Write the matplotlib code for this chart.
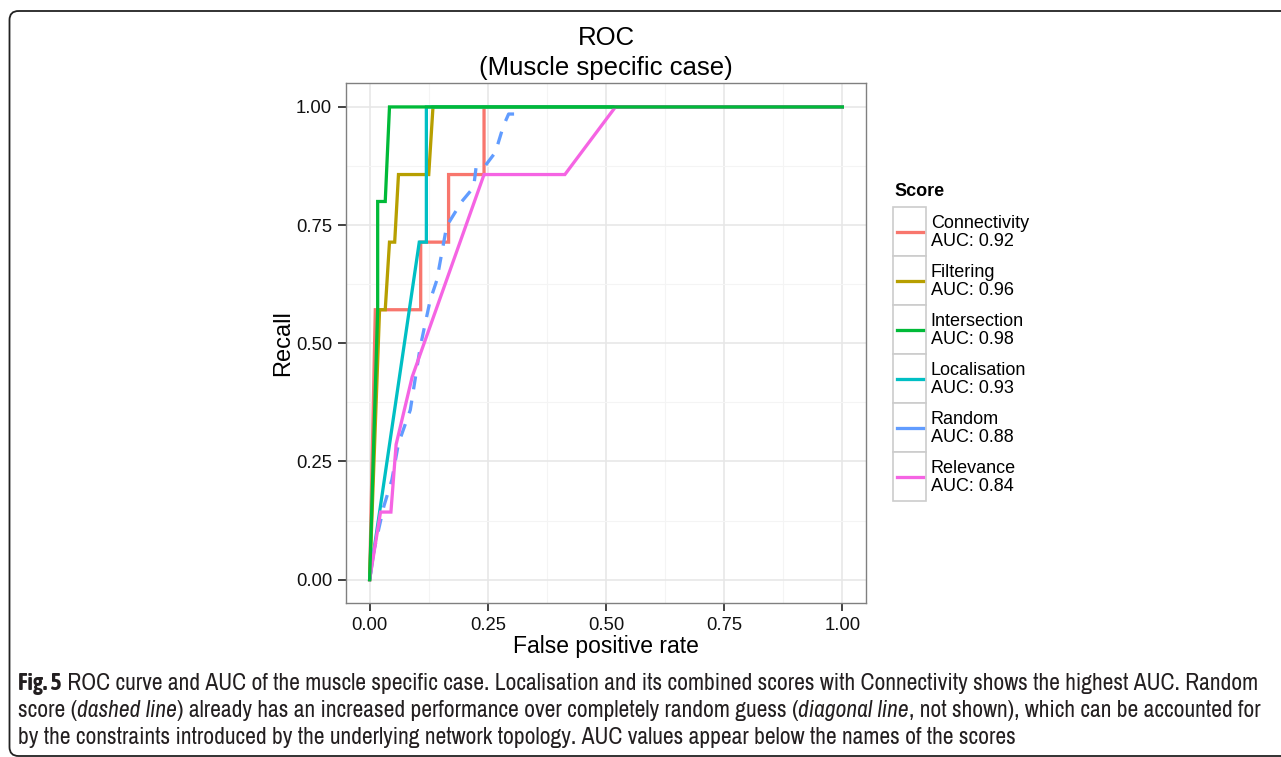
import matplotlib
matplotlib.use("Agg")
import matplotlib.pyplot as plt
from matplotlib import font_manager
from matplotlib.patches import FancyBboxPatch, Rectangle

# ROC curves
conn_x = [0, 0.012, 0.108, 0.108, 0.167, 0.167, 0.242, 0.242, 1.0]
conn_y = [0, 0.571, 0.571, 0.714, 0.714, 0.857, 0.857, 1.0, 1.0]
filt_x = [0, 0.021, 0.033, 0.042, 0.053, 0.061, 0.125, 0.134, 1.0]
filt_y = [0, 0.571, 0.571, 0.714, 0.714, 0.857, 0.857, 1.0, 1.0]
inter_x = [0, 0.017, 0.017, 0.033, 0.042, 1.0]
inter_y = [0, 0.571, 0.80, 0.80, 1.0, 1.0]
local_x = [0, 0.105, 0.12, 0.12, 1.0]
local_y = [0, 0.714, 0.714, 1.0, 1.0]
rand_x = [0, 0.008, 0.03, 0.047, 0.061, 0.086, 0.107, 0.128, 0.142, 0.163,
          0.195, 0.22, 0.225, 0.241, 0.266, 0.283, 0.294, 0.318]
rand_y = [0, 0.057, 0.155, 0.211, 0.288, 0.359, 0.492, 0.591, 0.633, 0.748,
          0.80, 0.83, 0.871, 0.871, 0.904, 0.96, 0.985, 0.985]
relev_x = [0, 0.023, 0.045, 0.056, 0.09, 0.242, 0.413, 0.52, 1.0]
relev_y = [0, 0.143, 0.143, 0.286, 0.429, 0.857, 0.857, 1.0, 1.0]

scores = ["Connectivity", "Filtering", "Intersection", "Localisation", "Random", "Relevance"]
auc = [0.92, 0.96, 0.98, 0.93, 0.88, 0.84]
colors = ["#F8766D", "#B79F00", "#00BA38", "#00BFC4", "#619CFF", "#F564E3"]
curves = [(conn_x, conn_y), (filt_x, filt_y), (inter_x, inter_y),
          (local_x, local_y), (rand_x, rand_y), (relev_x, relev_y)]

ticks = [0.0, 0.25, 0.5, 0.75, 1.0]
tick_labels = ["0.00", "0.25", "0.50", "0.75", "1.00"]

caption_lines = [
    [("Fig. 5", "bold", "normal"),
     (" ROC curve and AUC of the muscle specific case. Localisation and its combined scores "
      "with Connectivity shows the highest AUC. Random", "normal", "normal")],
    [("score (", "normal", "normal"), ("dashed line", "normal", "italic"),
     (") already has an increased performance over completely random guess (", "normal", "normal"),
     ("diagonal line", "normal", "italic"),
     (", not shown), which can be accounted for", "normal", "normal")],
    [("by the constraints introduced by the underlying network topology. AUC values appear "
      "below the names of the scores", "normal", "normal")],
]

plt.rcParams["font.family"] = ["Liberation Sans", "DejaVu Sans"]

# pick a condensed face for the caption, and a bold one if it exists
fonts = font_manager.fontManager.ttflist
narrow = sorted({f.name for f in fonts if "Narrow" in f.name or "Condensed" in f.name})
cap_family = narrow[0] if narrow else "Liberation Sans"
bold_narrow = [f.name for f in fonts
               if f.name in narrow and isinstance(f.weight, int) and f.weight >= 600]
if cap_family in bold_narrow:
    bold_family = cap_family
elif bold_narrow:
    bold_family = bold_narrow[0]
else:
    bold_family = cap_family

W, H = 1281, 757
fig = plt.figure(figsize=(W / 100, H / 100), dpi=100)

# pixel overlay for frame, titles, legend and caption
ov = fig.add_axes([0, 0, 1, 1])
ov.set_xlim(0, W)
ov.set_ylim(H, 0)
ov.axis("off")

ax = fig.add_axes([346 / W, 1 - 603.3 / H, 520 / W, 520 / H])
ax.set_facecolor("white")
for i, (xs, ys) in enumerate(curves):
    ls = (0, (4, 3.5)) if scores[i] == "Random" else "-"
    z = 4 if scores[i] == "Intersection" else 3
    ax.plot(xs, ys, color=colors[i], lw=2.35, ls=ls, zorder=z, solid_joinstyle="miter")

ax.set_xlim(-0.05, 1.05)
ax.set_ylim(-0.05, 1.05)
ax.set_xticks(ticks)
ax.set_xticklabels(tick_labels)
ax.set_yticks(ticks)
ax.set_yticklabels(tick_labels)
ax.set_xticks([0.125, 0.375, 0.625, 0.875], minor=True)
ax.set_yticks([0.125, 0.375, 0.625, 0.875], minor=True)
ax.grid(True, which="major", color="#E6E6E6", lw=1.1, zorder=0)
ax.grid(True, which="minor", color="#F4F4F4", lw=0.8, zorder=0)
ax.set_axisbelow(True)
ax.tick_params(which="major", length=6, width=1.2, color="#222222", pad=4,
               labelsize=13.3, labelcolor="#111111")
ax.tick_params(which="minor", length=0)
for sp in ax.spines.values():
    sp.set_color("#808080")
    sp.set_linewidth(1.0)

ax.set_xlabel("False positive rate", fontsize=16.5)
ax.set_ylabel("Recall", fontsize=17)
ax.xaxis.set_label_coords(0.5, -0.084)
ax.yaxis.set_label_coords(-0.121, 0.5)
ax.xaxis.label.set_va("center")
ax.yaxis.label.set_va("center")

# title
ov.text(606, 38, "ROC", fontsize=18.5, ha="center", va="center")
ov.text(606, 68, "(Muscle specific case)", fontsize=18.5, ha="center", va="center")

# legend
ov.text(894, 192, "Score", fontsize=13, fontweight="bold", ha="left", va="center")
for i, name in enumerate(scores):
    top = 207.3 + i * 49
    ov.add_patch(Rectangle((893.3, top), 32.7, 49, facecolor="white",
                           edgecolor="#CCCCCC", lw=1.2))
    ov.plot([896.7, 922.7], [top + 24.5, top + 24.5], color=colors[i], lw=2.35)
    ov.text(930.7, top + 16, name, fontsize=13, ha="left", va="center")
    ov.text(930.7, top + 34.5, "AUC: {:.2f}".format(auc[i]), fontsize=13,
            ha="left", va="center")

# rounded frame around the figure panel
ov.add_patch(FancyBboxPatch((9.5, 11), 1400, 745, boxstyle="round,pad=0,rounding_size=9",
                            facecolor="none", edgecolor="#222222", lw=1.3, clip_on=False))

# caption
renderer = fig.canvas.get_renderer()


def fam(weight):
    return bold_family if weight == "bold" else cap_family


def piece_width(s, size, weight, style):
    a = ov.text(0, 0, "a" + s + "a", fontsize=size, fontweight=weight, fontstyle=style,
                family=fam(weight))
    b = ov.text(0, 0, "aa", fontsize=size, fontweight=weight, fontstyle=style,
                family=fam(weight))
    w = a.get_window_extent(renderer).width - b.get_window_extent(renderer).width
    a.remove()
    b.remove()
    return w


base = 10.0
w1 = sum(piece_width(s, base, wt, st) for s, wt, st in caption_lines[0])
cap_size = base * (1263 - 18) / w1
baselines = [690, 717, 744]
for line, yb in zip(caption_lines, baselines):
    x = 18
    for s, wt, st in line:
        ov.text(x, yb, s, fontsize=cap_size, fontweight=wt, fontstyle=st,
                family=fam(wt), va="baseline", ha="left", color="#231F20")
        x += piece_width(s, cap_size, wt, st)

fig.savefig("out.png", dpi=100)
